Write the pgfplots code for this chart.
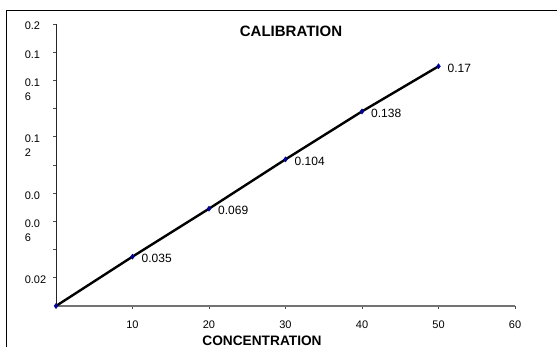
\documentclass[border=0pt]{standalone}
\usepackage{fontspec}
\setmainfont{Liberation Sans}
\usepackage{pgfplots}
\pgfplotsset{compat=1.18}
\definecolor{navyb}{RGB}{0,0,150}
\begin{document}
\begin{tikzpicture}
\begin{axis}[
  at={(0pt,0pt)}, anchor=south west,
  x=7.65pt, y=1410pt,
  xmin=0, xmax=60, ymin=0, ymax=0.2,
  axis x line=bottom, axis y line=left,
  axis line style={-},
  x axis line style={draw=black!55, line width=1.2pt},
  y axis line style={draw=black!85, line width=0.8pt},
  tick align=outside,
  major tick length=3pt,
  tick style={black!70, line width=0.8pt},
  xtick={10,20,30,40,50,60},
  xticklabels={10,20,30,40,50,60},
  ytick={0.02,0.04,0.06,0.08,0.1,0.12,0.14,0.16,0.18,0.2},
  yticklabels={0.02,,{0.0\\6},{0.0},,{0.1\\2},,{0.1\\6},{0.1},{0.2}},
  xticklabel style={anchor=north, inner sep=0pt, yshift=-12pt, font=\fontsize{11}{13}\selectfont},
  yticklabel style={align=left, text width=22pt, anchor=north east, inner sep=0pt, xshift=-6pt, yshift=2pt, font=\fontsize{11}{14}\selectfont},
  clip=false,
]
\addplot[black, line width=2.4pt, no marks] coordinates {
  (0,0) (10,0.035) (20,0.069) (30,0.104) (40,0.138) (50,0.17)
};
\addplot[only marks, mark=diamond*, mark size=2.6pt, mark options={fill=navyb, draw=navyb},
  nodes near coords, point meta=explicit symbolic,
  nodes near coords style={anchor=west, xshift=9pt, yshift=-2pt, inner sep=0pt, text=black, font=\fontsize{12}{14}\selectfont}]
  coordinates {
  (0,0) [] (10,0.035) [0.035] (20,0.069) [0.069] (30,0.104) [0.104] (40,0.138) [0.138] (50,0.17) [0.17]
};
\end{axis}
\node[anchor=base, font=\bfseries\fontsize{15}{18}\selectfont] at (235pt,269pt) {CALIBRATION};
\node[anchor=base, font=\bfseries\fontsize{13.7}{16}\selectfont] at (206pt,-39.5pt) {CONCENTRATION};
\draw[black, line width=1pt] (-49pt,-41pt) -- (-49pt,295pt) -- (501pt,295pt);
\pgfresetboundingbox
\useasboundingbox (-56pt,-41pt) rectangle (501pt,306pt);
\end{tikzpicture}
\end{document}
